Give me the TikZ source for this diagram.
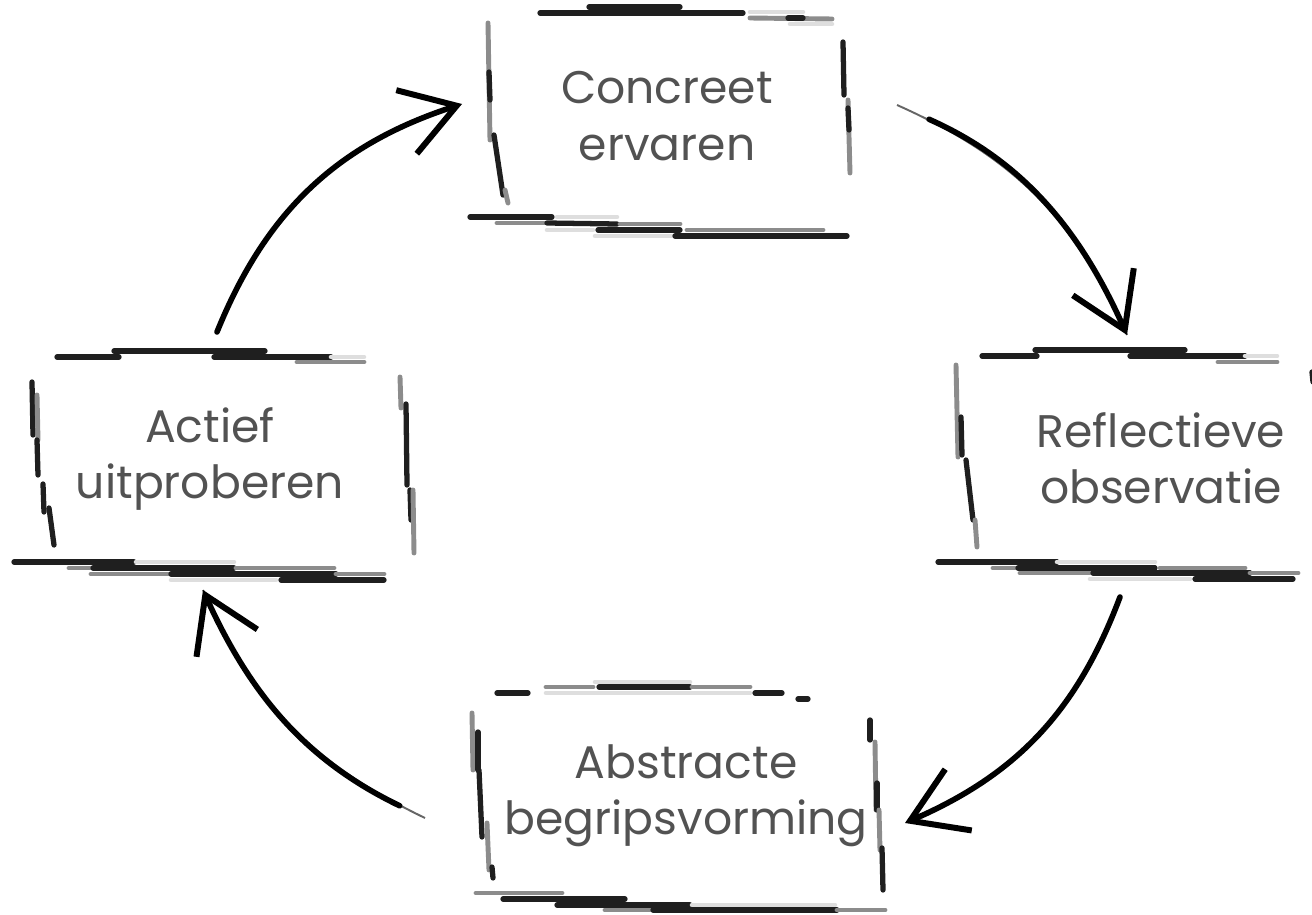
\documentclass[tikz,border=0pt]{standalone}
\usepackage{fontspec}
\setmainfont{Poppins}
\usetikzlibrary{arrows.meta}

\tikzset{
  stagetext/.style={align=center,font=\fontsize{26}{32}\selectfont,text=black!68,inner sep=0pt},
  ink/.style={line width=3pt,black!88,line cap=round},
  pale/.style={line width=2.8pt,black!45,line cap=round},
  faint/.style={line width=2.6pt,black!13,line cap=round},
  flow/.style={line width=3.2pt,black,line cap=round,-{Straight Barb[length=30pt,width=38pt,line width=3.4pt]}},
  flowtail/.style={line width=1.1pt,black!60},
}

\begin{document}
\begin{tikzpicture}[x=0.02cm,y=-0.02cm]
\useasboundingbox (0,0) rectangle (1312,915);
%First box
  \node[stagetext] (A) at (667,116) {Concreet\\ervaren};
  \draw[ink] (540,13)--(743,13);
  \draw[ink] (589,7)--(680,7);
  \draw[faint] (750,12)--(803,12);
  \draw[pale] (750,18)--(832,19);
  \draw[ink] (788,18)--(803,18);
  \draw[faint] (790,24)--(832,24);
  \draw[pale] (488,23)--(490,140);
  \draw[ink] (489,72)--(490,100);
  \draw[ink] (494,135)--(503,195);
  \draw[pale] (505,190)--(508,203);
  \draw[ink] (843,42)--(844,95);
  \draw[pale] (848,100)--(850,173);
  \draw[ink] (848,108)--(849,130);
  \draw[ink] (470,217)--(552,217);
  \draw[faint] (557,217)--(617,217);
  \draw[pale] (497,223)--(547,223);
  \draw[ink] (547,223)--(617,224);
  \draw[pale] (620,224)--(680,224);
  \draw[faint] (547,230)--(593,230);
  \draw[ink] (598,230)--(680,230);
  \draw[pale] (687,230)--(823,230);
  \draw[faint] (595,236)--(673,236);
  \draw[ink] (675,236)--(847,236);
% Second box
  \node[stagetext] (B) at (1161,458) {Reflectieve\\observatie};
  \draw[ink] (982,356)--(1037,356);
  \draw[ink] (1035,350)--(1185,350);
  \draw[ink] (1130,356)--(1245,356);
  \draw[faint] (1245,356)--(1277,356);
  \draw[pale] (1218,362)--(1277,362);
  \draw[pale] (956,365)--(958,457);
  \draw[ink] (961,417)--(962,455);
  \draw[ink] (966,460)--(973,520);
  \draw[pale] (975,520)--(977,547);
  \draw[ink] (1312,372)--(1313,382);
  \draw[ink] (938,562)--(1057,562);
  \draw[faint] (1057,562)--(1155,562);
  \draw[pale] (993,568)--(1015,568);
  \draw[ink] (1018,568)--(1155,568);
  \draw[pale] (1160,568)--(1245,568);
  \draw[pale] (1020,573)--(1090,573);
  \draw[ink] (1093,573)--(1250,573);
  \draw[pale] (1250,573)--(1298,573);
  \draw[faint] (1090,579)--(1190,579);
  \draw[ink] (1195,579)--(1293,579);
% Third box
  \node[stagetext] (C) at (686,796) {Abstracte\\begripsvorming};
  \draw[faint] (595,682)--(690,682);
  \draw[pale] (546,687)--(593,687);
  \draw[ink] (599,687)--(690,687);
  \draw[pale] (692,687)--(750,687);
  \draw[ink] (497,693)--(528,693);
  \draw[faint] (546,693)--(750,693);
  \draw[ink] (755,693)--(782,693);
  \draw[ink] (798,699)--(808,699);
  \draw[pale] (472,713)--(473,770);
  \draw[ink] (478,732)--(478,770);
  \draw[ink] (479,770)--(482,837);
  \draw[pale] (487,823)--(489,870);
  \draw[ink] (492,867)--(493,878);
  \draw[ink] (870,720)--(870,740);
  \draw[pale] (875,742)--(876,810);
  \draw[ink] (877,783)--(877,810);
  \draw[pale] (879,810)--(880,850);
  \draw[ink] (882,848)--(883,890);
  \draw[pale] (476,893)--(562,893);
  \draw[ink] (503,899)--(625,899);
  \draw[ink] (557,905)--(690,905);
  \draw[faint] (692,905)--(835,905);
  \draw[pale] (605,910)--(653,910);
  \draw[ink] (653,910)--(837,910);
  \draw[pale] (837,910)--(885,910);
% Fourth box
  \node[stagetext] (D) at (210,459) {Actief\\uitproberen};
  \draw[ink] (57,357)--(119,357);
  \draw[ink] (114,351)--(265,351);
  \draw[ink] (214,357)--(331,357);
  \draw[faint] (331,357)--(364,357);
  \draw[pale] (297,362)--(364,362);
  \draw[ink] (32,382)--(33,435);
  \draw[pale] (37,395)--(38,440);
  \draw[ink] (37,440)--(38,475);
  \draw[ink] (43,484)--(44,512);
  \draw[ink] (49,508)--(54,545);
  \draw[pale] (400,377)--(401,408);
  \draw[ink] (406,404)--(407,485);
  \draw[ink] (410,490)--(411,520);
  \draw[pale] (413,490)--(414,553);
  \draw[ink] (14,562)--(134,562);
  \draw[faint] (136,562)--(234,562);
  \draw[pale] (69,568)--(93,568);
  \draw[ink] (93,568)--(234,568);
  \draw[pale] (236,568)--(334,568);
  \draw[pale] (91,574)--(169,574);
  \draw[ink] (171,574)--(336,574);
  \draw[pale] (336,574)--(384,574);
  \draw[faint] (171,580)--(276,580);
  \draw[ink] (281,580)--(384,580);
% arrows
  \coordinate (Aa) at (897,105);
  \coordinate (Bb) at (1127,335);
  \coordinate (Ba) at (1120,597);
  \coordinate (Cc) at (905,823);
  \coordinate (Ca) at (425,818);
  \coordinate (Dd) at (203,590);
  \coordinate (Da) at (217,332);
  \coordinate (Aaa) at (462,104);
  \draw[flowtail] (Aa) to[bend left=21] (Bb);
  \draw[flow,shorten <=20pt] (Aa) to[bend left=21] (Bb);
  \draw[flow] (Ba) to[bend left=23] (Cc);
  \draw[flowtail] (Ca) to[bend left=20] (Dd);
  \draw[flow,shorten <=16pt] (Ca) to[bend left=20] (Dd);
  \draw[flow] (Da) to[bend left=25] (Aaa);
\end{tikzpicture}
\end{document}
